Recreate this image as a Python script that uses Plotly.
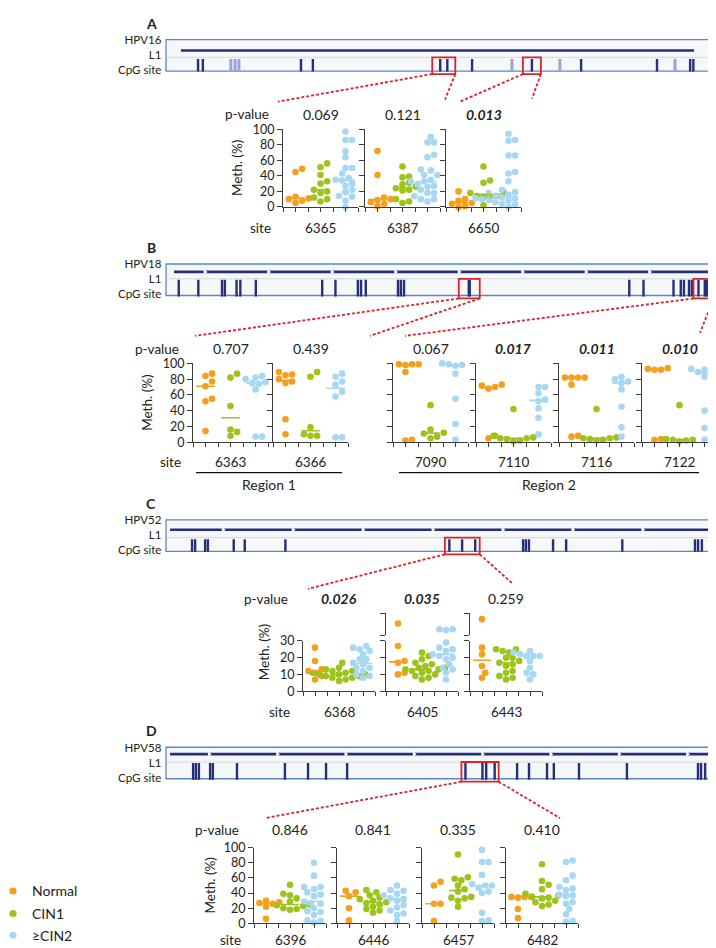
import numpy as np
import plotly.graph_objects as go

# ---------------------------------------------------------------- data
GROUP_NAMES = ["Normal", "CIN1", "≥CIN2"]

HPV16_L1 = [5559, 7154]
HPV16_cpg = [5612, 5627, 5932, 5969, 6365, 6387, 6464, 6650, 6803, 7039, 7142, 7152]
HPV16_cpg_light = [5714, 5727, 5739, 6588, 6737, 7095]

HPV18_L1 = [5430, 7136]
HPV18_cpg = [5445, 5507, 5582, 5591, 5628, 5640, 5689, 5899, 5941, 6012, 6022, 6037,
             6139, 6148, 6158, 6363, 6366, 6871, 6916, 7011, 7034, 7044, 7060, 7069,
             7090, 7110, 7116, 7122]

HPV52_L1 = [5557, 7142]
HPV52_cpg = [5621, 5630, 5659, 5667, 5742, 5774, 5892, 6368, 6405, 6443, 6582, 6590,
             6599, 6669, 6707, 6870, 7081, 7090, 7101]

HPV58_L1 = [5527, 7133]
HPV58_cpg = [5595, 5603, 5612, 5645, 5653, 5724, 5865, 5933, 5986, 6048, 6396, 6446,
             6457, 6482, 6548, 6583, 6636, 6656, 6730, 6871, 7080, 7089, 7101, 7115]

# Panel A (HPV16)
A_sites = [6365, 6387, 6650]
A_pvalues = ["0.069", "0.121", "0.013"]
A_signif = [False, False, True]
A_normal = [[49, 45, 13, 12, 11, 10, 8, 5],
            [72, 41, 12, 10, 9, 6, 4, 1],
            [20, 10, 8, 6, 5, 4, 1, 0]]
A_cin1 = [[56, 51, 41, 33, 30, 22, 20, 18, 12, 10, 7],
          [52, 39, 38, 31, 29, 26, 24, 22, 21, 10, 7, 5],
          [52, 34, 31, 19, 18, 14, 14, 13, 13, 2]]
A_cin2 = [[97, 86, 86, 72, 64, 50, 50, 43, 37, 35, 34, 30, 27, 22, 19, 19, 14, 13, 8, 0],
          [90, 83, 83, 67, 64, 48, 47, 41, 41, 35, 33, 33, 32, 29, 27, 26, 22, 18, 18, 14,
           14, 10, 10, 7],
          [94, 86, 85, 66, 66, 45, 43, 33, 22, 19, 18, 16, 15, 14, 13, 12, 12, 11, 11, 10,
           10, 9, 9, 8, 7, 6, 5, 4, 3, 0]]

# Panel B (HPV18)
B_sites = [6363, 6366, 7090, 7110, 7116, 7122]
B_pvalues = ["0.707", "0.439", "0.067", "0.017", "0.011", "0.010"]
B_signif = [False, False, False, True, True, True]
B_regions = ["Region 1", "Region 2"]
B_normal = [[87, 84, 77, 71, 55, 52, 14],
            [89, 86, 85, 80, 77, 75, 29, 10],
            [99, 99, 99, 98, 89, 3, 2],
            [73, 72, 70, 68, 8, 5],
            [82, 82, 82, 82, 73, 8, 7],
            [94, 94, 93, 92, 92, 4, 3]]
B_cin1 = [[87, 82, 46, 16, 13, 8],
          [89, 83, 19, 10, 8, 8],
          [47, 16, 12, 11, 7, 5],
          [42, 8, 6, 5, 5, 4, 2, 1],
          [42, 6, 5, 5, 4, 3, 2],
          [47, 4, 3, 3, 2, 1]]
B_cin2 = [[84, 82, 80, 76, 75, 74, 67, 7, 7],
          [87, 83, 77, 73, 64, 58, 6, 6],
          [100, 99, 99, 98, 97, 87, 55, 23, 3],
          [70, 70, 62, 54, 52, 43, 31, 10],
          [83, 80, 80, 77, 75, 67, 45, 19, 7],
          [93, 92, 90, 89, 88, 83, 40, 18, 3]]

# Panel C (HPV52)
C_sites = [6368, 6405, 6443]
C_pvalues = ["0.026", "0.035", "0.259"]
C_signif = [True, True, False]
C_normal = [[26, 18, 13, 12, 11, 9, 7],
            [46, 27, 18, 17, 11, 10],
            [52, 26, 22, 15, 11, 8]]
C_cin1 = [[17, 14, 13, 12, 12, 11, 11, 10, 10, 10, 9, 9, 8, 8, 7, 6],
          [23, 21, 19, 17, 16, 15, 14, 14, 13, 13, 12, 12, 11, 10, 9, 8, 7],
          [25, 25, 24, 23, 20, 20, 18, 17, 16, 15, 12, 11, 9, 8, 7]]
C_cin2 = [[27, 26, 25, 24, 22, 19, 19, 17, 16, 15, 14, 14, 12, 10, 9, 8],
          [38, 38, 37, 29, 27, 26, 25, 24, 22, 22, 21, 20, 19, 16, 14, 13, 11, 7],
          [24, 23, 22, 22, 21, 21, 21, 18, 14, 11, 10, 7]]

# Panel D (HPV58)
D_sites = [6396, 6446, 6457, 6482]
D_pvalues = ["0.846", "0.841", "0.335", "0.410"]
D_signif = [False, False, False, False]
D_normal = [[30, 28, 27, 26, 22, 6],
            [43, 41, 36, 20, 4],
            [55, 50, 26, 26, 3],
            [35, 35, 35, 34, 19, 7]]
D_cin1 = [[51, 39, 37, 33, 29, 25, 24, 23, 20, 19, 18],
          [44, 41, 37, 34, 32, 30, 28, 27, 25, 22, 19, 17, 14],
          [91, 61, 59, 57, 50, 45, 42, 35, 34, 33, 30, 22],
          [78, 56, 51, 45, 39, 37, 35, 34, 33, 30, 28, 25, 23]]
D_cin2 = [[80, 63, 48, 48, 45, 43, 41, 38, 36, 31, 29, 27, 26, 20, 16, 15, 11, 6, 4, 3, 1],
          [50, 44, 43, 39, 37, 35, 33, 32, 30, 24, 21, 17, 13, 11, 3],
          [97, 81, 81, 64, 54, 52, 50, 50, 47, 42, 40, 14, 4, 3],
          [83, 81, 63, 57, 48, 46, 44, 41, 38, 37, 36, 28, 26, 19, 12, 3, 2]]

# ---------------------------------------------------------------- style
W, H = 716, 948
COLORS = ["#f5a01d", "#9dc31c", "#a7d7f4"]
AX = "#3c3c3c"
TXT = "#222222"
NAVY = "#25307a"
LIGHT = "#9da2d8"
RED = "#d9232b"
BOX_BORDER = "#5b88c2"
FONT = "Lato, 'Noto Sans', 'DejaVu Sans', sans-serif"
DOT = 6.6
TICK_FONT = 12.5

fig = go.Figure()
layout = {}
annotations = []
shapes = []
axis_counter = [0]


def new_axes(x0, x1, ytop, ybot, xkw, ykw):
    axis_counter[0] += 1
    n = axis_counter[0]
    s = "" if n == 1 else str(n)
    layout["xaxis" + s] = dict(domain=[x0 / W, x1 / W], anchor="y" + s, **xkw)
    layout["yaxis" + s] = dict(domain=[1 - ybot / H, 1 - ytop / H], anchor="x" + s, **ykw)
    return "x" + s, "y" + s


def text(x, y, s, size=13.5, anchor="center", angle=0, align="center"):
    annotations.append(dict(x=x / W, y=1 - y / H, xref="paper", yref="paper", text=s,
                            showarrow=False, xanchor=anchor, yanchor="middle", align=align,
                            textangle=angle, font=dict(size=size, color=TXT, family=FONT)))


def pline(x0, y0, x1, y1, color, width=1.0, dash=None):
    ln = dict(color=color, width=width)
    if dash:
        ln["dash"] = dash
    shapes.append(dict(type="line", xref="paper", yref="paper", x0=x0 / W, y0=1 - y0 / H,
                       x1=x1 / W, y1=1 - y1 / H, line=ln))


def swarm_offsets(vals, y_to_px, d=DOT):
    order = sorted(range(len(vals)), key=lambda i: vals[i])
    placed = []
    offs = [0.0] * len(vals)
    step = d * 0.5
    cands = [0.0]
    for j in range(1, 40):
        cands += [j * step, -j * step]
    for i in order:
        yp = y_to_px(vals[i])
        for c in cands:
            if all((c - cx) ** 2 + (yp - cy) ** 2 >= (d * 0.92) ** 2 for cx, cy in placed):
                offs[i] = c
                placed.append((c, yp))
                break
    return offs


def x_style(visible=True):
    return dict(range=[0.5, 3.5], showgrid=False, zeroline=False, showline=visible,
                linecolor=AX, linewidth=1, ticks="outside" if visible else "", ticklen=4,
                tickwidth=1, tickcolor=AX, tickvals=[0.5, 1, 1.5, 2, 2.5, 3, 3.5],
                showticklabels=False, fixedrange=True, visible=visible)


def y_style(rng, tickvals, labels, ticktext=None):
    d = dict(range=rng, showgrid=False, zeroline=False, showline=True, linecolor=AX,
             linewidth=1, ticks="outside", ticklen=5, tickwidth=1, tickcolor=AX,
             tickvals=tickvals, showticklabels=labels,
             tickfont=dict(size=TICK_FONT, color=TXT, family=FONT), fixedrange=True)
    if ticktext is not None:
        d["ticktext"] = ticktext
    return d


def add_dots(xa, ya, gi, xs, ys):
    if not xs:
        return
    fig.add_trace(go.Scatter(x=xs, y=ys, mode="markers", xaxis=xa, yaxis=ya,
                             marker=dict(size=DOT, color=COLORS[gi], line=dict(width=0)),
                             cliponaxis=False, hoverinfo="skip", showlegend=False))


def add_median(xa, ya, gi, vals):
    med = float(np.median(vals))
    fig.add_trace(go.Scatter(x=[gi + 1 - 0.37, gi + 1 + 0.37], y=[med, med], mode="lines",
                             xaxis=xa, yaxis=ya, line=dict(color=COLORS[gi], width=1.6),
                             cliponaxis=False, hoverinfo="skip", showlegend=False))


def dot_panel(xl, xr, ytop, ybot, groups, labels):
    xa, ya = new_axes(xl, xr, ytop, ybot, x_style(),
                      y_style([0, 100], [0, 20, 40, 60, 80, 100], labels))
    ppx = (xr - xl) / 3.0
    ppy = (ybot - ytop) / 100.0
    for gi, vals in enumerate(groups):
        offs = swarm_offsets(vals, lambda v: v * ppy)
        add_dots(xa, ya, gi, [gi + 1 + o / ppx for o in offs], list(vals))
    for gi, vals in enumerate(groups):
        add_median(xa, ya, gi, vals)


def genome_panel(name, L1, line_px, cpg, top, bot, line_off, div_off, light=None,
                 arrows=None, selections=(), margins=()):
    ppn = (line_px[1] - line_px[0]) / float(L1[1] - L1[0])

    def nt(p):
        return L1[0] + (p - line_px[0]) / ppn

    def px(n):
        return line_px[0] + (n - L1[0]) * ppn

    h = float(bot - top)
    xa, ya = new_axes(150, 716, top - 4, bot + 8,
                      dict(range=[nt(150), nt(716)], visible=False, fixedrange=True),
                      dict(range=[-8 / h, 1 + 4 / h], visible=False, fixedrange=True))

    def Y(p):
        return (bot - p) / h

    shapes.append(dict(type="rect", xref=xa, yref=ya, x0=nt(158), x1=nt(713), y0=0, y1=1,
                       line=dict(color=BOX_BORDER, width=1.3), fillcolor="#f6f7f9",
                       layer="below"))
    dv = Y(top + div_off)
    shapes.append(dict(type="line", xref=xa, yref=ya, x0=nt(158.7), x1=nt(712.3), y0=dv,
                       y1=dv, line=dict(color="#d3d9e4", width=1), layer="below"))
    ly = Y(top + line_off)
    fig.add_trace(go.Scatter(x=L1, y=[ly, ly], mode="lines", xaxis=xa, yaxis=ya,
                             line=dict(color=NAVY, width=2.6), hoverinfo="skip",
                             showlegend=False))
    if arrows:
        fig.add_trace(go.Scatter(x=arrows, y=[ly] * len(arrows), mode="markers", xaxis=xa,
                                 yaxis=ya, marker=dict(symbol="triangle-right", size=5,
                                                       color="white", line=dict(width=0)),
                                 hoverinfo="skip", showlegend=False))
    tick_h = (h - div_off) - 5
    ty = Y(top + div_off + 3.5 + tick_h / 2.0)
    if light:
        fig.add_trace(go.Scatter(x=light, y=[ty] * len(light), mode="markers", xaxis=xa,
                                 yaxis=ya, marker=dict(symbol="line-ns", size=tick_h,
                                                       line=dict(width=3, color=LIGHT)),
                                 hoverinfo="skip", showlegend=False))
    fig.add_trace(go.Scatter(x=cpg, y=[ty] * len(cpg), mode="markers", xaxis=xa, yaxis=ya,
                             marker=dict(symbol="line-ns", size=tick_h,
                                         line=dict(width=2.4, color=NAVY)),
                             hoverinfo="skip", showlegend=False))
    corners = []
    for sel, m in zip(selections, margins):
        x0 = min(sel) - m / ppn
        x1 = max(sel) + m / ppn
        shapes.append(dict(type="rect", xref=xa, yref=ya, x0=x0, x1=x1, y0=Y(bot + 3),
                           y1=Y(top + div_off), line=dict(color=RED, width=1.8)))
        corners.append(((px(x0), bot + 3), (px(x1), bot + 3)))
    # three stacked row labels in one right-aligned text block
    text(156, top + 15, name + "<br>L1<br>CpG site", 11.5, "right", align="right")
    return corners


def dashed(p0, p1):
    pline(p0[0], p0[1], p1[0], p1[1], RED, 1.8, "3px,2px")


def header_and_sites(panels, sites, pvals, signif, p_y, site_y, lab_x, ytitle_x, ytop, ybot):
    text(lab_x, p_y, "p-value", 13.5, "right")
    text(lab_x + 2, site_y, "site", 13.5, "right")
    for (xl, xr), s, p, b in zip(panels, sites, pvals, signif):
        cx = (xl + xr) / 2.0
        text(cx, p_y, "<b><i>%s</i></b>" % p if b else p, 14)
        text(cx, site_y, str(s), 13.5)
    text(ytitle_x, (ytop + ybot) / 2.0, "Meth. (%)", 13.5, "center", -90)


# ---------------------------------------------------------------- panel A
text(143, 8, "<b>A</b>", 14)
cA = genome_panel("HPV16", HPV16_L1, [173, 686], HPV16_cpg, 24, 56, 11, 18,
                  light=HPV16_cpg_light,
                  selections=[A_sites[:2], A_sites[2:]], margins=[8, 9])
dashed(cA[0][0], (270, 87))
dashed(cA[0][1], (437, 85))
dashed(cA[1][0], (452, 87))
dashed(cA[1][1], (524, 84))
A_panels = [(275, 350), (357, 432), (438, 513)]
for k, (xl, xr) in enumerate(A_panels):
    dot_panel(xl, xr, 115, 194, [A_normal[k], A_cin1[k], A_cin2[k]], k == 0)
header_and_sites(A_panels, A_sites, A_pvalues, A_signif, 100, 215, 263, 229, 115, 194)

# ---------------------------------------------------------------- panel B
text(143, 235, "<b>B</b>", 14)
cB = genome_panel("HPV18", HPV18_L1, [166, 705], HPV18_cpg, 252, 284, 8, 15,
                  arrows=[5528 + 201 * k for k in range(8)],
                  selections=[B_sites[:2], B_sites[2:]], margins=[10, 5])
dashed(cB[0][0], (187, 325))
dashed(cB[0][1], (362, 325))
dashed(cB[1][0], (397, 325))
dashed(cB[1][1], (692, 322))
B_panels = [(185, 260), (265, 340), (385, 460), (468, 543), (551, 626), (634, 709)]
for k, (xl, xr) in enumerate(B_panels):
    dot_panel(xl, xr, 353, 433, [B_normal[k], B_cin1[k], B_cin2[k]], k == 0)
header_and_sites(B_panels, B_sites, B_pvalues, B_signif, 338, 453, 173, 139, 353, 433)
for (x0, x1), name in zip([(188, 334), (391, 691)], B_regions):
    pline(x0, 464, x1, 464, "#111111", 1.3)
    text((x0 + x1) / 2.0, 476, name, 14)

# ---------------------------------------------------------------- panel C (broken axis)
text(143, 495, "<b>C</b>", 14)
cC = genome_panel("HPV52", HPV52_L1, [162, 708], HPV52_cpg, 512, 544, 10, 18,
                  arrows=[5711 + 203 * k for k in range(7)],
                  selections=[C_sites], margins=[4.5])
dashed(cC[0][0], (300, 582))
dashed(cC[0][1], (505, 577))
C_panels = [(295, 367), (378, 450), (462, 534)]
LOW_TOP, LOW_BOT, UP_TOP, UP_BOT = 635, 686, 607, 629
for k, (xl, xr) in enumerate(C_panels):
    xa, ya = new_axes(xl, xr, LOW_TOP, LOW_BOT, x_style(),
                      y_style([0, 30], [0, 10, 20, 30], k == 0))
    xb, yb = new_axes(xl, xr, UP_TOP, UP_BOT, x_style(False),
                      y_style([30, 60], [30, 60], k == 0, ticktext=["", "60"]))
    ppx = (xr - xl) / 3.0
    lo_pp = (LOW_BOT - LOW_TOP) / 30.0
    up_pp = (UP_BOT - UP_TOP) / 30.0

    def ypx(v):
        return v * lo_pp if v <= 30 else (LOW_BOT - UP_BOT) + (v - 30) * up_pp

    groups = [C_normal[k], C_cin1[k], C_cin2[k]]
    for gi, vals in enumerate(groups):
        offs = swarm_offsets(vals, ypx)
        xs = [gi + 1 + o / ppx for o in offs]
        add_dots(xa, ya, gi, [x for x, v in zip(xs, vals) if v <= 30],
                 [v for v in vals if v <= 30])
        add_dots(xb, yb, gi, [x for x, v in zip(xs, vals) if v > 30],
                 [v for v in vals if v > 30])
    for gi, vals in enumerate(groups):
        add_median(xa, ya, gi, vals)
header_and_sites(C_panels, C_sites, C_pvalues, C_signif, 592, 707, 282, 256, UP_TOP, LOW_BOT)

# ---------------------------------------------------------------- panel D
text(143, 726, "<b>D</b>", 14)
cD = genome_panel("HPV58", HPV58_L1, [162, 708], HPV58_cpg, 743, 775, 7, 15,
                  arrows=[5642 + 201 * k for k in range(8)],
                  selections=[D_sites], margins=[4])
dashed(cD[0][0], (257, 815))
dashed(cD[0][1], (552, 815))
D_panels = [(246, 318), (329, 401), (414, 486), (498, 570)]
for k, (xl, xr) in enumerate(D_panels):
    dot_panel(xl, xr, 845, 922, [D_normal[k], D_cin1[k], D_cin2[k]], k == 0)
header_and_sites(D_panels, D_sites, D_pvalues, D_signif, 827, 939, 233, 202, 845, 922)

# ---------------------------------------------------------------- legend
for gi, (name, yy) in enumerate(zip(GROUP_NAMES, [889, 912, 934])):
    r = 3.6
    shapes.append(dict(type="circle", xref="paper", yref="paper", x0=(5 - r) / W,
                       x1=(5 + r) / W, y0=1 - (yy + r) / H, y1=1 - (yy - r) / H,
                       fillcolor=COLORS[gi], line=dict(width=0)))
    text(22, yy, name, 14, "left")

layout.update(dict(width=W, height=H, margin=dict(l=0, r=0, t=0, b=0),
                   paper_bgcolor="white", plot_bgcolor="white", showlegend=False,
                   font=dict(family=FONT, color=TXT), annotations=annotations,
                   shapes=shapes))
fig.update_layout(**layout)
fig.write_html("out.html")
